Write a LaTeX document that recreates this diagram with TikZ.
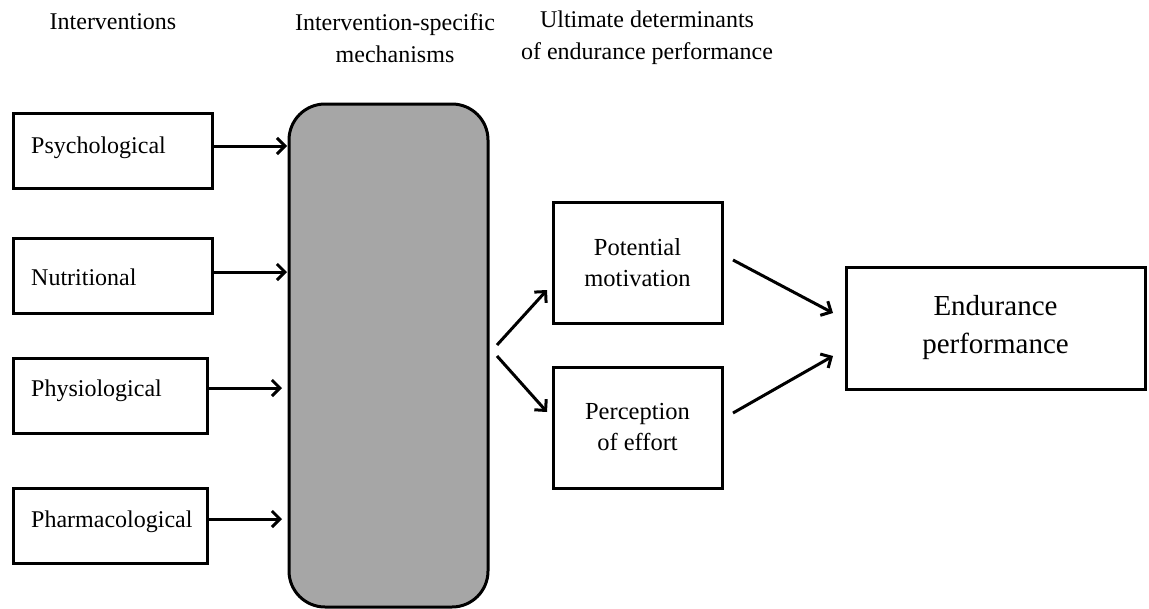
\documentclass[tikz,border=0pt]{standalone}
\usepackage{fontspec}
\setmainfont{Liberation Serif}
\usetikzlibrary{arrows.meta}
\begin{document}
\begin{tikzpicture}[x=1pt,y=-1pt,
  box/.style={draw=black,line width=3pt,fill=white,inner sep=0pt},
  lbl/.style={inner sep=0pt,font=\fontsize{24}{28}\selectfont},
  head/.style={inner sep=0pt,align=center,font=\fontsize{24}{32}\selectfont},
  conn/.style={line width=3pt,-{Straight Barb[length=8pt,width=16pt,line width=3pt]}}]
\useasboundingbox (0,0) rectangle (1149,608);
% headings
\node[head] (h1) at (113,22) {Interventions};
\node[head] (h2) at (395,38) {Intervention-specific\\mechanisms};
\node[head] (h3) at (647,38) {Ultimate determinants\\of endurance performance};
% intervention boxes
\node[box,minimum width=199pt,minimum height=75pt] (psy) at (112.5,150.5) {};
\node[box,minimum width=199pt,minimum height=75pt] (nut) at (112.5,275.5) {};
\node[box,minimum width=194pt,minimum height=75pt] (phy) at (110,395.5) {};
\node[box,minimum width=194pt,minimum height=75pt] (pha) at (110,525.5) {};
\node[lbl,anchor=west] (tpsy) at (31,148) {Psychological};
\node[lbl,anchor=west] (tnut) at (31,277) {Nutritional};
\node[lbl,anchor=west] (tphy) at (31,391) {Physiological};
\node[lbl,anchor=west] (tpha) at (31,522) {Pharmacological};
% mechanisms
\node[draw=black,line width=3pt,fill=black!35,rounded corners=36pt,minimum width=199pt,minimum height=503pt,inner sep=0pt] (mech) at (388.5,355.5) {};
\coordinate (m1) at (287,146);
\coordinate (m2) at (287,272);
\coordinate (m3) at (282,388);
\coordinate (m4) at (282,519);
\draw[conn] (psy.east |- m1) -- (m1);
\draw[conn] (nut.east |- m2) -- (m2);
\draw[conn] (phy.east |- m3) -- (m3);
\draw[conn] (pha.east |- m4) -- (m4);
% determinants
\node[box,minimum width=169pt,minimum height=121pt,align=center,font=\fontsize{24.5}{31}\selectfont] (pot) at (637.5,262.5) {Potential\\motivation};
\node[box,minimum width=169pt,minimum height=121pt,align=center,font=\fontsize{24.5}{31}\selectfont] (per) at (637.5,427.5) {Perception\\of effort};
\coordinate (a1s) at (497,345);
\coordinate (a1e) at (547,290);
\coordinate (a2s) at (497,356);
\coordinate (a2e) at (547,412);
\draw[conn] (a1s) -- (a1e);
\draw[conn] (a2s) -- (a2e);
% endurance
\node[box,minimum width=299pt,minimum height=122pt,align=center,font=\fontsize{29}{38}\selectfont] (end) at (995.5,328) {Endurance\\performance};
\coordinate (b1s) at (733,260);
\coordinate (b1e) at (833,313);
\coordinate (b2s) at (733,413);
\coordinate (b2e) at (833,356);
\draw[conn] (b1s) -- (b1e);
\draw[conn] (b2s) -- (b2e);
\end{tikzpicture}
\end{document}
